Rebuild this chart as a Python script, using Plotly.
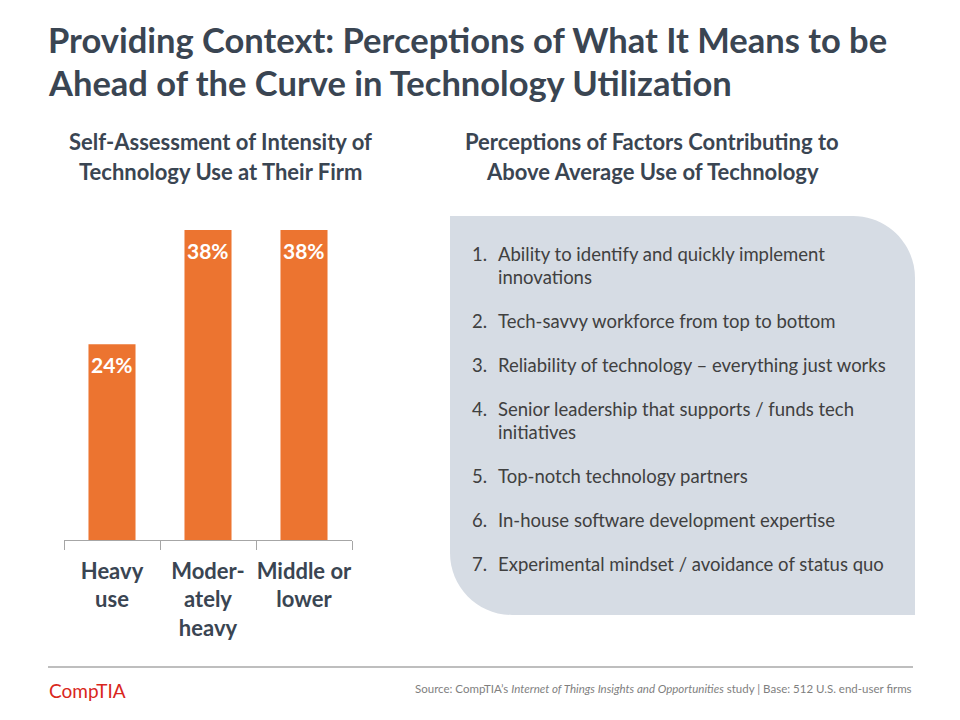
import plotly.graph_objects as go

W, H = 960, 720

# ---- data ----
categories = ["Heavy<br>use", "Moder-<br>ately<br>heavy", "Middle or<br>lower"]
values = [24, 38, 38]
value_labels = ["24%", "38%", "38%"]

title_lines = ["Providing Context: Perceptions of What It Means to be",
               "Ahead of the Curve in Technology Utilization"]
left_subtitle = ["Self-Assessment of Intensity of", "Technology Use at Their Firm"]
right_subtitle = ["Perceptions of Factors Contributing to", "Above Average Use of Technology"]
factors = [
    ["Ability to identify and quickly implement", "innovations"],
    ["Tech-savvy workforce from top to bottom"],
    ["Reliability of technology \u2013 everything just works"],
    ["Senior leadership that supports / funds tech", "initiatives"],
    ["Top-notch technology partners"],
    ["In-house software development expertise"],
    ["Experimental mindset / avoidance of status quo"],
]
source_text = ("Source: CompTIA\u2019s <i>Internet of Things Insights and Opportunities</i> "
               "study | Base: 512 U.S. end-user firms")

FONT = "Lato"
DARK = "#3A4552"
ORANGE = "#EC7430"
BOX = "#D6DCE4"


def px(x):
    return x / W


def py(y):
    return 1 - y / H


fig = go.Figure()
fig.add_trace(go.Bar(
    x=categories, y=values,
    marker=dict(color=ORANGE, line=dict(width=0)),
    cliponaxis=False, hoverinfo="skip",
))

annotations = []

# value labels inside top of bars (placed through the data axes)
for c, v, lab in zip(categories, values, value_labels):
    annotations.append(dict(text=f"<b>{lab}</b>", x=c, y=v, xref="x", yref="y",
                            xanchor="center", yanchor="top", yshift=-6,
                            showarrow=False,
                            font=dict(family=FONT, size=21, color="white")))


def note(text, x, y, size, color, anchor="left"):
    annotations.append(dict(text=text, x=px(x), y=py(y), xref="paper", yref="paper",
                            xanchor=anchor, yanchor="middle", showarrow=False,
                            font=dict(family=FONT, size=size, color=color)))


# Title
for i, t in enumerate(title_lines):
    note(f"<b>{t}</b>", 46, 39 + 43 * i, 34.5, DARK)
# Subtitles
for i, t in enumerate(left_subtitle):
    note(f"<b>{t}</b>", 220, 142 + 29 * i, 22, DARK, "center")
for i, t in enumerate(right_subtitle):
    note(f"<b>{t}</b>", 652, 142 + 29 * i, 22, DARK, "center")

# Factor list
y = 254
for n, lines in enumerate(factors, start=1):
    note(f"{n}.", 470, y, 18.5, "#404040")
    for j, ln in enumerate(lines):
        note(ln, 496, y + 23 * j, 18.5, "#404040")
    y += 23 * (len(lines) - 1) + 44

# Footer
note("CompTIA", 47, 690, 19, "#D9261C")
note(source_text, 914, 688, 11.5, "#7F7F7F", "right")

# Rounded box shape (top-right and bottom-left rounded)
L, T, R, B, r = 450, 216, 915, 615, 62
k = 0.5523 * r
path = (f"M {px(L)},{py(T)} L {px(R - r)},{py(T)} "
        f"C {px(R - r + k)},{py(T)} {px(R)},{py(T + r - k)} {px(R)},{py(T + r)} "
        f"L {px(R)},{py(B)} L {px(L + r)},{py(B)} "
        f"C {px(L + r - k)},{py(B)} {px(L)},{py(B - r + k)} {px(L)},{py(B - r)} Z")
shapes = [
    dict(type="path", path=path, xref="paper", yref="paper",
         fillcolor=BOX, line=dict(width=0), layer="below"),
    dict(type="line", xref="paper", yref="paper", x0=px(48), x1=px(913),
         y0=py(667), y1=py(667), line=dict(color="#7F7F7F", width=1.2)),
]

fig.update_layout(
    width=W, height=H, margin=dict(l=0, r=0, t=0, b=0),
    paper_bgcolor="white", plot_bgcolor="rgba(0,0,0,0)",
    showlegend=False, bargap=0.51,
    annotations=annotations, shapes=shapes,
    xaxis=dict(domain=[px(64), px(352)], range=[-0.5, 2.5], type="category",
               showline=True, linecolor="#A6A6A6", linewidth=1.2,
               ticks="outside", ticklen=9, tickcolor="#A6A6A6", tickwidth=1.2,
               tickson="boundaries", showgrid=False, zeroline=False, tickangle=0,
               tickfont=dict(family=FONT, size=22, color=DARK, weight="bold"),
               ticklabelstandoff=11, fixedrange=True),
    yaxis=dict(domain=[py(540), py(230)], range=[0, 38], visible=False,
               showgrid=False, zeroline=False, fixedrange=True),
)

fig.write_html("out.html", config={"displayModeBar": False},
               post_script="document.body.style.margin='0';")
